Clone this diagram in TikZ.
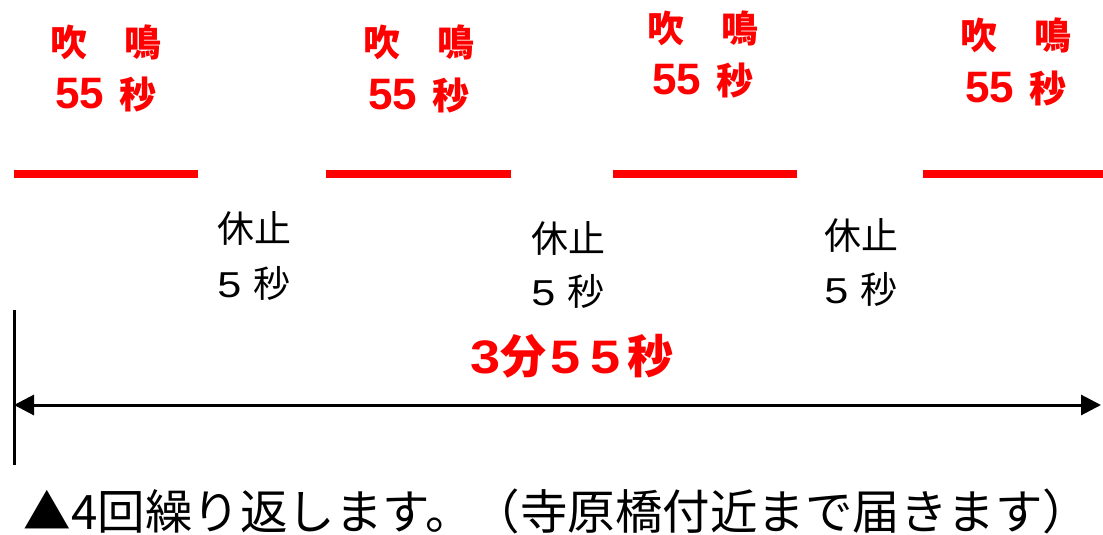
\documentclass[tikz,border=0pt]{standalone}
\usepackage{fontspec}
\usetikzlibrary{arrows.meta}
\newfontfamily\jp{Noto Sans CJK JP}
\newfontfamily\ar{Liberation Sans}
\newfontfamily\arw{Liberation Sans}[FakeStretch=1.2]
\newfontfamily\arb{Liberation Sans}[FakeStretch=1.15]
\definecolor{sigred}{RGB}{255,0,0}
\newcommand{\redsec}{{\ar\bfseries\fontsize{44}{48}\selectfont 55}\hspace{16pt}秒}
\newcommand{\blksec}{{\arw\fontsize{36}{40}\selectfont 5}\hspace{12pt}秒}
\tikzset{
  redtxt/.style={text=sigred,font=\jp\bfseries\fontsize{37}{40}\selectfont,inner sep=0pt,anchor=center},
  blktxt/.style={text=black,font=\jp\fontsize{37}{40}\selectfont,inner sep=0pt,anchor=center},
  redbar/.style={draw=sigred,line width=8pt},
  axisline/.style={draw=black,line width=3pt},
}
\begin{document}
\begin{tikzpicture}[x=1pt,y=-1pt]
\useasboundingbox (0,0) rectangle (1103,535);
% red sound segments
\coordinate (s1a) at (14,174); \coordinate (s1b) at (198,174);
\coordinate (s2a) at (326,174); \coordinate (s2b) at (511,174);
\coordinate (s3a) at (613,174); \coordinate (s3b) at (797,174);
\coordinate (s4a) at (923,174); \coordinate (s4b) at (1103,174);
\draw[redbar] (s1a) -- (s1b);
\draw[redbar] (s2a) -- (s2b);
\draw[redbar] (s3a) -- (s3b);
\draw[redbar] (s4a) -- (s4b);
% red labels
\node[redtxt] (r1a) at (106,42) {吹　鳴};
\node[redtxt] (r1b) at (106,94) {\redsec};
\node[redtxt] (r2a) at (419,42) {吹　鳴};
\node[redtxt] (r2b) at (419,95) {\redsec};
\node[redtxt] (r3a) at (703,28) {吹　鳴};
\node[redtxt] (r3b) at (703,80) {\redsec};
\node[redtxt] (r4a) at (1016,35) {吹　鳴};
\node[redtxt] (r4b) at (1016,88) {\redsec};
% black labels
\node[blktxt] (b1a) at (254,228) {休止};
\node[blktxt] (b1b) at (254,283) {\blksec};
\node[blktxt] (b2a) at (568,238) {休止};
\node[blktxt] (b2b) at (568,291) {\blksec};
\node[blktxt] (b3a) at (861,235) {休止};
\node[blktxt] (b3b) at (861,289) {\blksec};
% total
\node[redtxt,font=\jp\bfseries\fontsize{46}{50}\selectfont] (tot) at (572,356)
  {{\arb\bfseries\fontsize{47}{50}\selectfont 3}分\hspace{4pt}{\arb\bfseries\fontsize{47}{50}\selectfont 5\hspace{10pt}5}\hspace{7pt}秒};
\coordinate (vt) at (14,310); \coordinate (vb) at (14,465);
\draw[axisline] (vt) -- (vb);
\coordinate (al) at (14,405); \coordinate (ar) at (1101,405);
\draw[axisline,{Triangle[length=20pt,width=20pt]}-{Triangle[length=20pt,width=20pt]}] (al) -- (ar);
% note
\node[blktxt,font=\jp\fontsize{47.5}{50}\selectfont] (note) at (557,511) {▲4回繰り返します。（寺原橋付近まで届きます）};
\end{tikzpicture}
\end{document}
